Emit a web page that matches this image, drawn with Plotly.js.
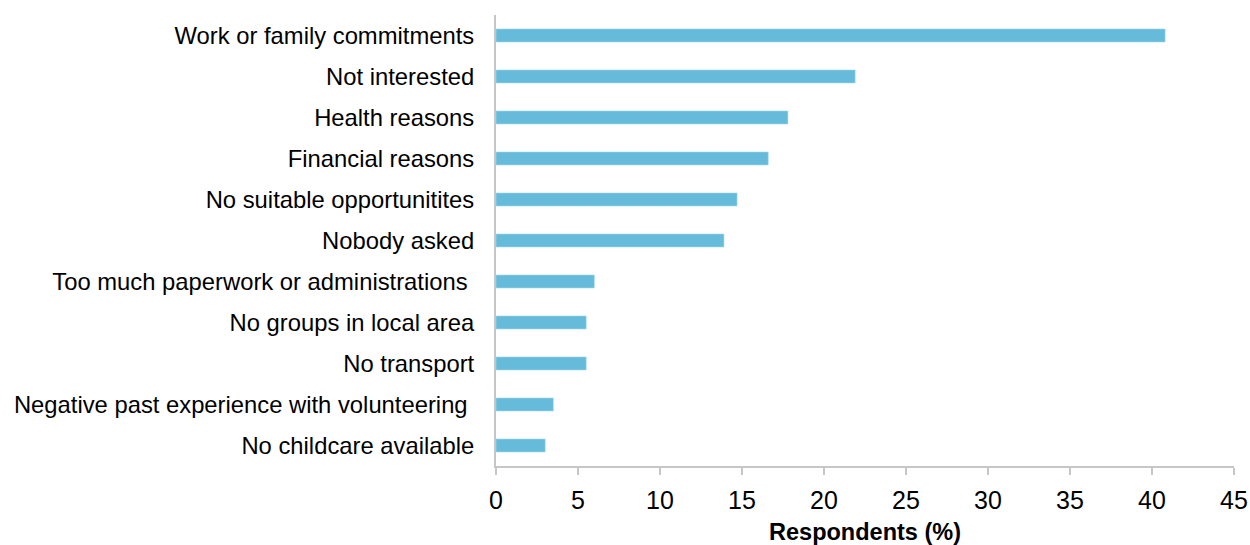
<!DOCTYPE html>
<html>
<head>
<meta charset="utf-8">
<script src="https://cdn.plot.ly/plotly-3.0.1.min.js"></script>
<style>html,body{margin:0;padding:0;background:#fff;}#chart{width:1250px;height:545px;}</style>
</head>
<body>
<div id="chart"></div>
<script>
const categories = [
  "Work or family commitments",
  "Not interested",
  "Health reasons",
  "Financial reasons",
  "No suitable opportunitites",
  "Nobody asked",
  "Too much paperwork or administrations\u00a0",
  "No groups in local area",
  "No transport",
  "Negative past experience with volunteering\u00a0",
  "No childcare available"
];
const values = [40.8, 21.9, 17.8, 16.6, 14.7, 13.9, 6.0, 5.5, 5.5, 3.5, 3.0];
const xTicks = [0, 5, 10, 15, 20, 25, 30, 35, 40, 45];
const xTitle = "Respondents (%)";

const trace = {
  type: 'bar',
  orientation: 'h',
  x: values,
  y: categories,
  width: 0.32,
  marker: {color: '#66bbdb', line: {color: '#a9dbee', width: 0.6}},
  hoverinfo: 'x+y'
};

const layout = {
  width: 1250, height: 545,
  margin: {l: 496, r: 16, t: 15, b: 79},
  paper_bgcolor: '#fff', plot_bgcolor: '#fff',
  showlegend: false,
  font: {family: 'Liberation Sans, Arial, sans-serif', color: '#000'},
  xaxis: {
    range: [0, 45],
    tickvals: xTicks,
    ticktext: xTicks.map(String),
    showgrid: false, zeroline: false,
    showline: true, linecolor: '#c6c6c6', linewidth: 2,
    ticks: 'outside', ticklen: 7, tickwidth: 2, tickcolor: '#c6c6c6',
    tickfont: {size: 25, color: '#000'},
    ticklabelstandoff: 4,
    title: {text: '<b>' + xTitle + '</b>', font: {size: 23.5, color: '#000'}, standoff: 12},
    fixedrange: true
  },
  yaxis: {
    type: 'category',
    categoryorder: 'array',
    categoryarray: categories,
    autorange: 'reversed',
    showgrid: false, zeroline: false,
    showline: true, linecolor: '#c6c6c6', linewidth: 2,
    ticks: '',
    ticklabelstandoff: 15,
    tickfont: {size: 23.8, color: '#000'},
    fixedrange: true
  },
  bargap: 0.68
};

Plotly.newPlot('chart', [trace], layout, {displayModeBar: false, staticPlot: true});
</script>
</body>
</html>
